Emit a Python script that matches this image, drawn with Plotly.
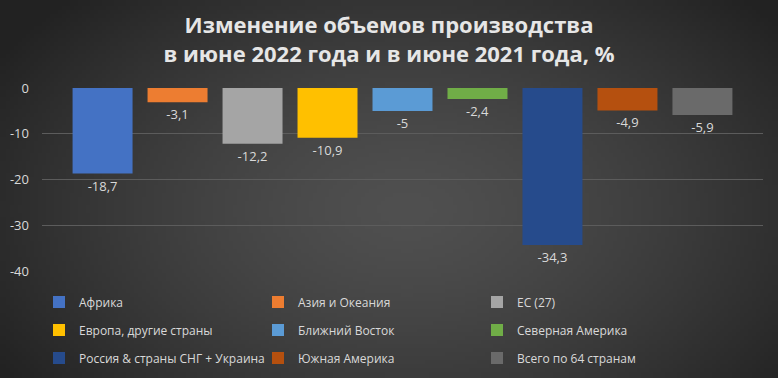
import base64, struct, zlib
import numpy as np
import plotly.graph_objects as go

# ---- data ----
regions = ["Африка", "Азия и Океания", "ЕС (27)",
           "Европа, другие страны", "Ближний Восток", "Северная Америка",
           "Россия & страны СНГ + Украина", "Южная Америка", "Всего по 64 странам"]
values = [-18.7, -3.1, -12.2, -10.9, -5.0, -2.4, -34.3, -4.9, -5.9]
labels = ["-18,7", "-3,1", "-12,2", "-10,9", "-5", "-2,4", "-34,3", "-4,9", "-5,9"]
colors = ["#4472C4", "#ED7D31", "#A5A5A5", "#FFC000", "#5B9BD5",
          "#70AD47", "#264B8C", "#B5500F", "#6A6A6A"]
tick_vals = [0, -10, -20, -30, -40]
tick_text = ["0", "-10", "-20", "-30", "-40"]

W, H = 778, 378

# ---- background radial gradient as a PNG (decoration only) ----
def make_bg(w=195, h=95):
    yy, xx = np.mgrid[0:h, 0:w]
    cx, cy = w * 0.52, h * 0.55
    r = np.sqrt(((xx - cx) / (w * 0.62)) ** 2 + ((yy - cy) / (h * 0.80)) ** 2)
    r = np.clip(r, 0, 1)
    inner, outer = 80, 34
    v = (inner + (outer - inner) * r ** 1.4).astype(np.uint8)
    raw = b"".join(b"\x00" + bytes(np.repeat(row, 3).tolist()) for row in v)
    def chunk(t, d):
        c = struct.pack(">I", len(d)) + t + d
        return c + struct.pack(">I", zlib.crc32(t + d) & 0xffffffff)
    png = b"\x89PNG\r\n\x1a\n" + chunk(b"IHDR", struct.pack(">IIBBBBB", w, h, 8, 2, 0, 0, 0)) \
        + chunk(b"IDAT", zlib.compress(raw, 9)) + chunk(b"IEND", b"")
    return "data:image/png;base64," + base64.b64encode(png).decode()

fig = go.Figure()
legend_names = ["legend", "legend2", "legend3"]
for i, (name, v, lab, c) in enumerate(zip(regions, values, labels, colors)):
    fig.add_trace(go.Bar(
        x=[0], y=[v], name=name, marker=dict(color=c, line=dict(width=0)),
        text=[lab], textposition="outside", cliponaxis=False,
        textfont=dict(color="#D9D9D9", size=13, family="Open Sans"),
        legend=legend_names[i // 3],
    ))

leg_common = dict(orientation="h", bgcolor="rgba(0,0,0,0)",
                  font=dict(color="#D9D9D9", size=12, family="Open Sans"),
                  entrywidth=174, entrywidthmode="pixels",
                  xanchor="left", yanchor="middle", x=39 / W, itemwidth=30,
                  traceorder="normal")
fig.update_layout(
    width=W, height=H,
    margin=dict(l=0, r=0, t=0, b=0, autoexpand=False),
    paper_bgcolor="#3a3a3a", plot_bgcolor="rgba(0,0,0,0)",
    images=[dict(source=make_bg(), xref="paper", yref="paper", x=0, y=1,
                 sizex=1, sizey=1, sizing="stretch", layer="below",
                 xanchor="left", yanchor="top")],
    title=dict(text="Изменение объемов производства<br>в июне 2022 года и в июне 2021 года, %",
               x=0.5, xanchor="center", y=1 - 33 / H, yanchor="middle",
               font=dict(family="Open Sans", size=22, color="#E6E6E6", weight="bold")),
    barmode="group", bargap=0.064, bargroupgap=0.2,
    xaxis=dict(domain=[42 / W, 763 / W], range=[-0.5, 0.5], visible=False),
    yaxis=dict(domain=[1 - 271 / H, 1 - 88 / H], range=[-40, 0],
               tickvals=tick_vals, ticktext=tick_text,
               tickfont=dict(color="#D9D9D9", size=13, family="Open Sans"),
               gridcolor="#5C5C5C", gridwidth=1, zeroline=False, showline=False,
               ticks="", ticklabelstandoff=12),
    legend=dict(**leg_common, y=1 - 302 / H),
    legend2=dict(**leg_common, y=1 - 330 / H),
    legend3=dict(**leg_common, y=1 - 358 / H),
    showlegend=True,
)

fig.write_html("out.html", config={"displayModeBar": False},
               post_script="document.body.style.margin='0';document.body.style.overflow='hidden';")
